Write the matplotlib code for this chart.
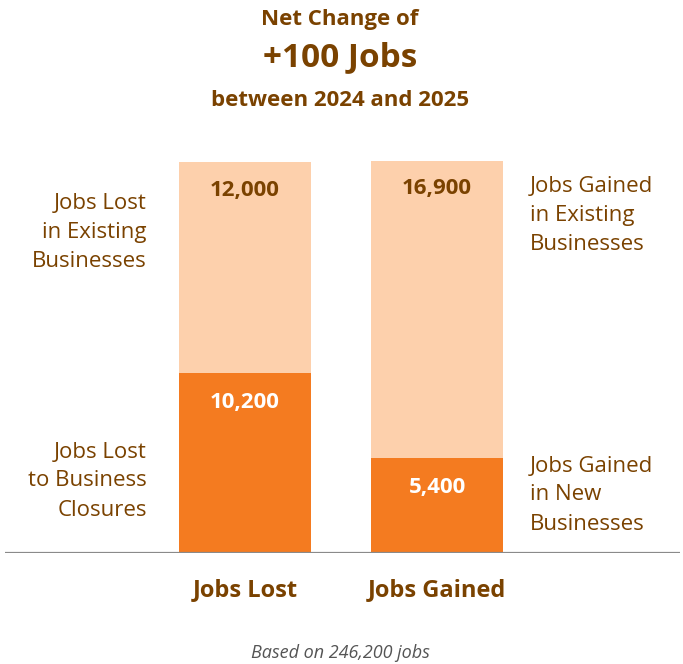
import matplotlib
matplotlib.use("Agg")
import matplotlib.pyplot as plt

# ---- data ----
categories = ["Jobs Lost", "Jobs Gained"]
base_values = [10200, 5400]        # closures / new businesses
top_values = [12000, 16900]        # existing businesses
base_labels = ["Jobs Lost\nto Business\nClosures", "Jobs Gained\nin New\nBusinesses"]
top_labels = ["Jobs Lost\nin Existing\nBusinesses", "Jobs Gained\nin Existing\nBusinesses"]
title_lines = ["Net Change of", "+100 Jobs", "between 2024 and 2025"]
footnote = "Based on 246,200 jobs"

DARK = "#F47B20"
LIGHT = "#FDD0AC"
BROWN = "#7A4200"
GRAY = "#555555"
FONT = ["Open Sans", "DejaVu Sans"]

W, H = 683, 664
fig = plt.figure(figsize=(W / 100, H / 100), dpi=100)

def fx(px):
    return px / W

def fy(py):
    return 1 - py / H

px_per_k = 17.6
ax_left, ax_right = 5, 680
base_y = 553
ax = fig.add_axes([fx(ax_left), fy(base_y), (ax_right - ax_left) / W, base_y / H])
unit = 192.0
ax.set_xlim(-(245 - ax_left) / unit, (ax_right - 245) / unit)
ax.set_ylim(0, base_y / px_per_k * 1000)
ax.axis("off")

x = [0, 1]
width = 132 / unit
ax.bar(x, base_values, width=width, color=DARK, zorder=2)
ax.bar(x, top_values, width=width, bottom=base_values, color=LIGHT, zorder=2)
ax.axhline(0, color="#8a8a8a", lw=1.6, zorder=3)

for i in range(2):
    ax.annotate(f"{base_values[i]:,}", (x[i], base_values[i]), xytext=(0, -21),
                textcoords="offset points", ha="center", va="center",
                color="white", fontsize=16, fontweight="bold", family=FONT)
    total = base_values[i] + top_values[i]
    ax.annotate(f"{top_values[i]:,}", (x[i], total), xytext=(0, -20),
                textcoords="offset points", ha="center", va="center",
                color=BROWN, fontsize=16, fontweight="bold", family=FONT)

# category labels
for i, c in enumerate(categories):
    fig.text(fx(245 + 192 * i), fy(590), c, ha="center", va="center",
             color=BROWN, fontsize=17, fontweight="bold", family=FONT)

# side labels
side_kw = dict(va="center", color=BROWN, fontsize=16, family=FONT, linespacing=1.5)
fig.text(fx(147), fy(233), top_labels[0], ha="right", **side_kw)
fig.text(fx(147), fy(481), base_labels[0], ha="right", **side_kw)
fig.text(fx(530), fy(215), top_labels[1], ha="left", **side_kw)
fig.text(fx(530), fy(495), base_labels[1], ha="left", **side_kw)

# title
fig.text(fx(340), fy(20), title_lines[0], ha="center", va="center", color=BROWN,
         fontsize=16, fontweight="bold", family=FONT)
fig.text(fx(340), fy(58), title_lines[1], ha="center", va="center", color=BROWN,
         fontsize=24, fontweight="bold", family=FONT)
fig.text(fx(340), fy(100), title_lines[2], ha="center", va="center", color=BROWN,
         fontsize=16, fontweight="bold", family=FONT)

fig.text(fx(340), fy(653), footnote, ha="center", va="center", color=GRAY,
         fontsize=13, style="italic", family=FONT)

fig.savefig("out.png", dpi=100)
